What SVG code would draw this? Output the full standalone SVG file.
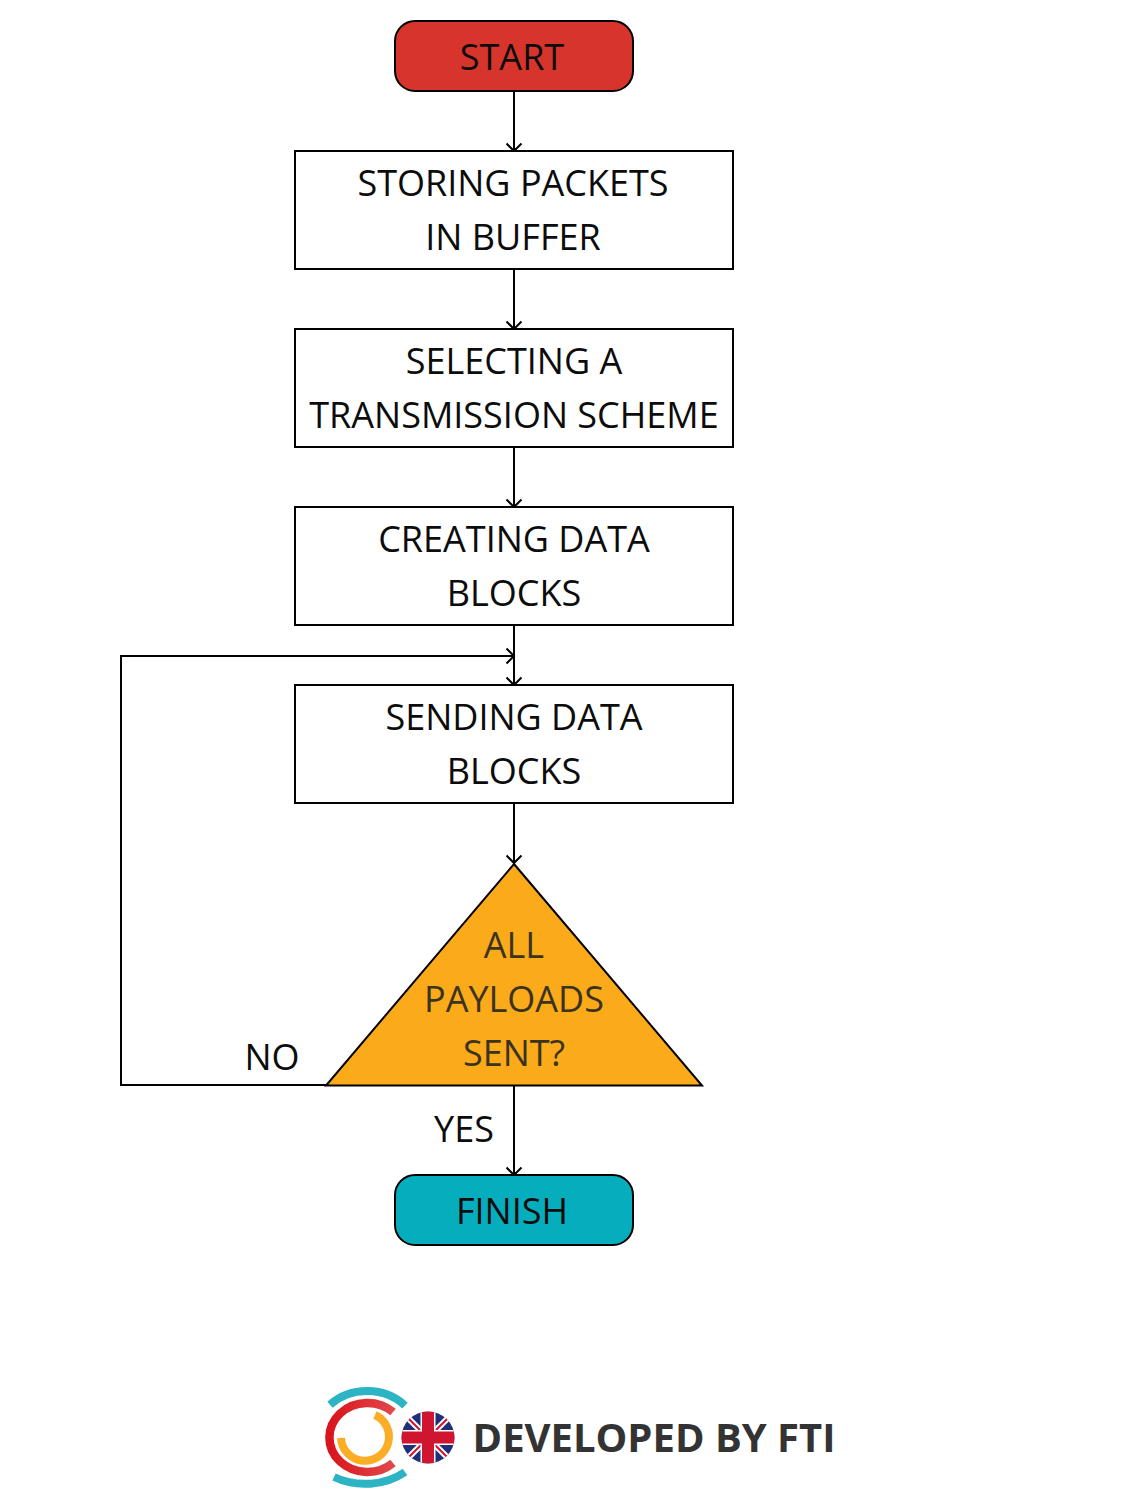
<svg xmlns="http://www.w3.org/2000/svg" width="1148" height="1490" viewBox="0 0 1148 1490">
<style>
text{font-family:"Open Sans","Liberation Sans",sans-serif;font-size:36px;fill:#0c0c0c;text-anchor:middle}
.box{fill:#fff;stroke:#000;stroke-width:2}
.conn{fill:none;stroke:#000;stroke-width:2;marker-end:url(#arrow)}
.dec{fill:#3a3320}
</style>
<defs>
<marker id="arrow" markerUnits="userSpaceOnUse" markerWidth="18" markerHeight="18" refX="15" refY="9" orient="auto"><path d="M7.500 1.500L15 9L7.500 16.500" fill="none" stroke="#000" stroke-width="2"/></marker>
<clipPath id="flagClip"><ellipse cx="428" cy="1437.500" rx="26.500" ry="26"/></clipPath>
<linearGradient id="redRing" x1="0" y1="0" x2="1" y2="0"><stop offset="0" stop-color="#d9141c"/><stop offset="1" stop-color="#e2484a"/></linearGradient>
</defs>
<rect width="1148" height="1490" fill="#fff"/>
<g id="connectors">
<path class="conn" d="M514 92V151"/>
<path class="conn" d="M514 270V329"/>
<path class="conn" d="M514 448V507"/>
<path class="conn" d="M514 626V685"/>
<path class="conn" d="M514 804V863"/>
<path class="conn" d="M514 1086V1175"/>
<path class="conn" d="M326 1085H121V656H514"/>
</g>
<g id="start"><rect x="395" y="21" width="238" height="70" rx="20" fill="#d7352b" stroke="#000" stroke-width="2"/><text x="512" y="70">START</text></g>
<g id="store"><rect class="box" x="295" y="151" width="438" height="118"/><text x="513" y="196">STORING PACKETS</text><text x="513" y="250">IN BUFFER</text></g>
<g id="select"><rect class="box" x="295" y="329" width="438" height="118"/><text x="514" y="374">SELECTING A</text><text x="514" y="428">TRANSMISSION SCHEME</text></g>
<g id="create"><rect class="box" x="295" y="507" width="438" height="118"/><text x="514" y="552">CREATING DATA</text><text x="514" y="606">BLOCKS</text></g>
<g id="send"><rect class="box" x="295" y="685" width="438" height="118"/><text x="514" y="730">SENDING DATA</text><text x="514" y="784">BLOCKS</text></g>
<g id="decision"><path d="M514 864L702 1085.500H326Z" fill="#fbaa19" stroke="#000" stroke-width="2"/><text class="dec" x="514" y="958">ALL</text><text class="dec" x="514" y="1012">PAYLOADS</text><text class="dec" x="514" y="1066">SENT?</text></g>
<g id="no-label"><text x="272" y="1070">NO</text></g>
<g id="yes-label"><text x="464" y="1142">YES</text></g>
<g id="finish"><rect x="395" y="1175" width="238" height="70" rx="20" fill="#06adbd" stroke="#000" stroke-width="2"/><text x="512" y="1224">FINISH</text></g>
<g id="logo">
<g fill="none">
<path d="M330 1404.700A52 46 0 0 1 405 1405.600" stroke="#2db4c4" stroke-width="8"/>
<path d="M334 1477A60 47 0 0 0 405 1472" stroke="#2db4c4" stroke-width="8"/>
<path d="M393 1412A38 34.500 0 1 0 393 1463" stroke="url(#redRing)" stroke-width="8.500"/>
<path d="M375 1415A24 24 0 1 1 341 1438" stroke="#fbad25" stroke-width="8"/>
</g>
<g clip-path="url(#flagClip)">
<rect x="400" y="1410" width="56" height="56" fill="#1f2f78"/>
<path d="M400 1410L456 1466M456 1410L400 1466" stroke="#fff" stroke-width="6"/>
<path d="M400 1410L456 1466M456 1410L400 1466" stroke="#cf1530" stroke-width="2"/>
<path d="M428 1410V1466M400 1437.500H456" stroke="#fff" stroke-width="15"/>
<path d="M428 1410V1466M400 1437.500H456" stroke="#cf1530" stroke-width="12"/>
</g>
</g>
<g id="credit"><text x="654" y="1452" style="font-weight:700;fill:#333;font-size:40px">DEVELOPED BY FTI</text></g>
</svg>
